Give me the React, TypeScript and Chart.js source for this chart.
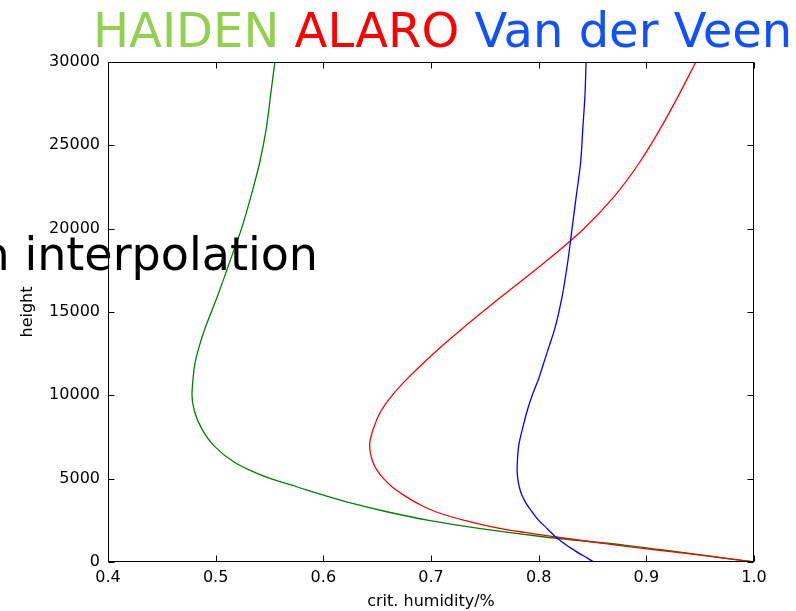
import React, { useEffect, useRef } from 'react';
import { Chart, registerables } from 'chart.js';

Chart.register(...registerables);

// heights (m)
const heights = [0, 250, 500, 750, 1000, 1500, 2000, 2500, 3000, 3500, 4000, 4500, 5000, 5500, 6000, 7000, 8000, 9000, 10000, 11000, 12000, 13000, 14000, 16000, 18000, 20000, 22000, 24000, 26000, 28000, 30000];

// critical humidity per height
const haiden = [1.0, 0.971, 0.942, 0.912, 0.881, 0.806, 0.746, 0.698, 0.66, 0.628, 0.601, 0.576, 0.551, 0.532, 0.517, 0.498, 0.487, 0.4805, 0.478, 0.479, 0.481, 0.485, 0.49, 0.502, 0.513, 0.524, 0.533, 0.541, 0.547, 0.551, 0.555];
const alaro = [1.0, 0.97, 0.939, 0.906, 0.874, 0.816, 0.765, 0.731, 0.705, 0.688, 0.675, 0.664, 0.656, 0.65, 0.646, 0.643, 0.6465, 0.653, 0.664, 0.678, 0.694, 0.711, 0.729, 0.767, 0.806, 0.842, 0.871, 0.894, 0.913, 0.93, 0.946];
const vanDerVeen = [0.851, 0.845, 0.838, 0.832, 0.826, 0.816, 0.808, 0.8, 0.794, 0.7885, 0.7845, 0.782, 0.7806, 0.78, 0.7802, 0.7815, 0.785, 0.789, 0.794, 0.8, 0.805, 0.81, 0.815, 0.822, 0.827, 0.831, 0.835, 0.839, 0.841, 0.843, 0.844];

const xTickValues = [0.4, 0.5, 0.6, 0.7, 0.8, 0.9, 1.0];
const xTickLabels = ['0.4', '0.5', '0.6', '0.7', '0.8', '0.9', '1.0'];
const yTickValues = [0, 5000, 10000, 15000, 20000, 25000, 30000];
const yTickLabels = ['0', '5000', '10000', '15000', '20000', '25000', '30000'];

const titleParts = [
  { text: 'HAIDEN', color: '#92d050' },
  { text: 'ALARO', color: '#ff0000' },
  { text: 'Van der Veen', color: '#1050ff' },
];
const overlayText = 'n interpolation';

const FONT = "'DejaVu Sans', sans-serif";

const framePlugin = {
  id: 'frameTicks',
  afterDatasetsDraw(chart: any) {
    const { ctx, chartArea: a, scales } = chart;
    const xs = scales.x;
    const ys = scales.y;
    const L = Math.round(a.left) + 0.5;
    const R = Math.round(a.right) - 0.5;
    const T = Math.round(a.top) + 0.5;
    const B = Math.round(a.bottom) - 0.5;
    const len = 6;
    ctx.save();
    ctx.strokeStyle = '#000';
    ctx.lineWidth = 1;
    ctx.beginPath();
    for (const v of xTickValues) {
      const px = Math.round(xs.getPixelForValue(v)) + 0.5;
      ctx.moveTo(px, B);
      ctx.lineTo(px, B - len);
      ctx.moveTo(px, T);
      ctx.lineTo(px, T + len);
    }
    for (const v of yTickValues) {
      const py = Math.round(ys.getPixelForValue(v)) + 0.5;
      ctx.moveTo(L, py);
      ctx.lineTo(L + len, py);
      ctx.moveTo(R, py);
      ctx.lineTo(R - len, py);
    }
    ctx.stroke();
    ctx.strokeRect(L, T, R - L, B - T);
    ctx.restore();
  },
};

export default function App() {
  const ref = useRef<HTMLCanvasElement>(null);

  useEffect(() => {
    if (!ref.current) return;
    const mk = (vals: number[]) => heights.map((h, i) => ({ x: vals[i], y: h }));
    const chart = new Chart(ref.current, {
      type: 'scatter',
      data: {
        datasets: [
          { label: 'HAIDEN', data: mk(haiden), borderColor: '#008000', order: 3 },
          { label: 'ALARO', data: mk(alaro), borderColor: '#ff0000', order: 2 },
          { label: 'Van der Veen', data: mk(vanDerVeen), borderColor: '#0000ff', order: 1 },
        ].map((d) => ({
          ...d,
          showLine: true,
          pointRadius: 0,
          borderWidth: 1.3,
          cubicInterpolationMode: 'monotone',
          indexAxis: 'y',
          fill: false,
        })),
      },
      options: {
        animation: false,
        responsive: false,
        devicePixelRatio: 1,
        indexAxis: 'y',
        layout: { padding: { top: 62, right: 42, left: 0, bottom: 0 } },
        plugins: { legend: { display: false }, tooltip: { enabled: false }, title: { display: false } },
        scales: {
          x: {
            type: 'linear',
            position: 'bottom',
            min: 0.4,
            max: 1.0,
            grid: { display: false, drawTicks: false },
            border: { display: false },
            afterBuildTicks: (s: any) => {
              s.ticks = xTickValues.map((v) => ({ value: v }));
            },
            afterFit: (s: any) => {
              s.height = 49;
            },
            ticks: {
              autoSkip: false,
              maxRotation: 0,
              padding: 6,
              color: '#000',
              font: { family: FONT, size: 16 },
              callback: (_v: any, i: number) => xTickLabels[i],
            },
            title: {
              display: true,
              text: 'crit. humidity/%',
              color: '#000',
              font: { family: FONT, size: 16 },
              padding: { top: 0, bottom: 0 },
            },
          },
          y: {
            type: 'linear',
            position: 'left',
            min: 0,
            max: 30000,
            grid: { display: false, drawTicks: false },
            border: { display: false },
            afterBuildTicks: (s: any) => {
              s.ticks = yTickValues.map((v) => ({ value: v }));
            },
            afterFit: (s: any) => {
              s.width = 108;
            },
            ticks: {
              autoSkip: false,
              padding: 8,
              color: '#000',
              font: { family: FONT, size: 16 },
              callback: (_v: any, i: number) => yTickLabels[i],
            },
            title: {
              display: true,
              text: 'height',
              color: '#000',
              font: { family: FONT, size: 16 },
              padding: { top: 18, bottom: 0 },
            },
          },
        },
      },
      plugins: [framePlugin],
    } as any);
    return () => chart.destroy();
  }, []);

  return (
    <div
      style={{
        position: 'fixed',
        left: 0,
        top: 0,
        width: 796,
        height: 611,
        overflow: 'hidden',
        background: '#fff',
      }}
    >
      <canvas ref={ref} width={796} height={611} style={{ position: 'absolute', left: 0, top: 0 }} />
      <div
        style={{
          position: 'absolute',
          left: 93,
          top: 6,
          fontFamily: FONT,
          fontSize: 48,
          lineHeight: 1,
          whiteSpace: 'nowrap',
        }}
      >
        {titleParts.map((p, i) => (
          <span key={i} style={{ color: p.color }}>
            {(i > 0 ? ' ' : '') + p.text}
          </span>
        ))}
      </div>
      <div
        style={{
          position: 'absolute',
          right: 478,
          top: 231,
          fontFamily: FONT,
          fontSize: 46,
          lineHeight: 1,
          whiteSpace: 'nowrap',
          color: '#000',
        }}
      >
        {overlayText}
      </div>
    </div>
  );
}
